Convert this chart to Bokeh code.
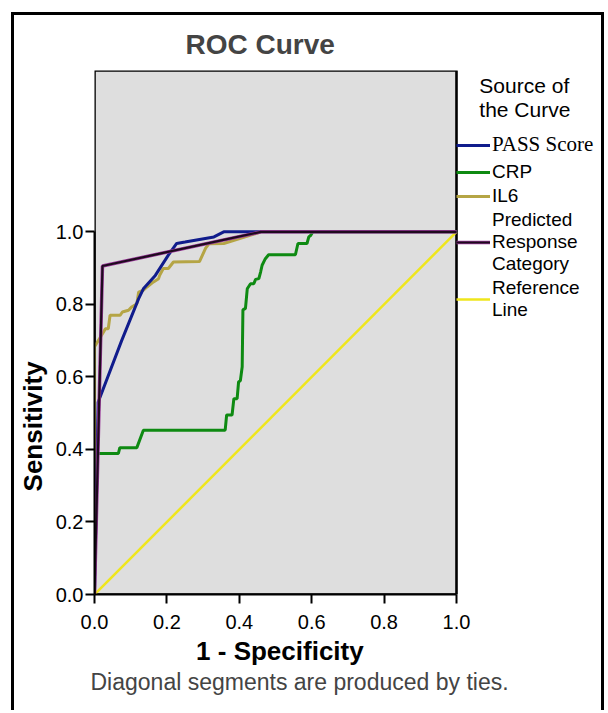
from bokeh.plotting import figure
from bokeh.models import Legend, LegendItem, Title, FixedTicker, Range1d
from bokeh.embed import file_html
from bokeh.resources import INLINE

# ---- data ----
pass_fpr = [0.0, 0.010, 0.075, 0.122, 0.135, 0.168, 0.204, 0.227, 0.250, 0.330, 0.357, 1.0]
pass_tpr = [0.0, 0.530, 0.700, 0.816, 0.843, 0.880, 0.936, 0.968, 0.972, 0.986, 1.000, 1.0]

crp_fpr = [0.0, 0.005, 0.066, 0.070, 0.117, 0.135, 0.361, 0.365, 0.380, 0.385, 0.394,
           0.398, 0.403, 0.408, 0.410, 0.417, 0.422, 0.431, 0.440, 0.445, 0.454, 0.459,
           0.463, 0.472, 0.481, 0.555, 0.562, 0.587, 0.592, 0.597, 0.603, 1.0]
crp_tpr = [0.0, 0.389, 0.389, 0.405, 0.405, 0.453, 0.453, 0.495, 0.495, 0.540, 0.540,
           0.586, 0.590, 0.628, 0.785, 0.789, 0.843, 0.857, 0.857, 0.869, 0.871, 0.890,
           0.908, 0.926, 0.937, 0.937, 0.968, 0.968, 0.986, 0.990, 1.000, 1.0]

il6_fpr = [0.0, 0.0, 0.025, 0.030, 0.038, 0.043, 0.071, 0.077, 0.094, 0.103, 0.117,
           0.122, 0.135, 0.145, 0.163, 0.177, 0.180, 0.190, 0.204, 0.218, 0.290, 0.307,
           0.316, 0.357, 0.460, 1.0]
il6_tpr = [0.0, 0.683, 0.724, 0.733, 0.733, 0.770, 0.770, 0.779, 0.784, 0.793, 0.802,
           0.834, 0.839, 0.848, 0.862, 0.871, 0.880, 0.899, 0.899, 0.917, 0.918, 0.955,
           0.967, 0.968, 1.000, 1.0]

pred_fpr = [0.0, 0.022, 0.460, 1.0]
pred_tpr = [0.0, 0.906, 1.000, 1.0]

ref_fpr = [0.0, 1.0]
ref_tpr = [0.0, 1.0]

tick_values = [0.0, 0.2, 0.4, 0.6, 0.8, 1.0]
tick_labels = ["0.0", "0.2", "0.4", "0.6", "0.8", "1.0"]

series_names = ["PASS Score", "CRP", "IL6", "Predicted\nResponse\nCategory", "Reference\nLine"]
legend_title_lines = ["Source of", "the Curve"]

# plot-area extents (data units): x 0..1, y 0..1.445; the frame continues to the
# right to hold the legend
X_MAX, Y_MAX = 1.0, 1.445
X_VIEW = 508 / 362

SANS = "Liberation Sans"
NB = "\u00a0"

p = figure(width=593, height=698, output_backend="svg", toolbar_location=None,
           x_range=Range1d(0, X_VIEW), y_range=Range1d(0, Y_MAX),
           min_border_left=80, min_border_right=5, min_border_top=55,
           min_border_bottom=119,
           background_fill_color="white", border_fill_color="white")
p.margin = (12, 0, 0, 11)
p.styles = {"border-left": "3px solid black", "border-top": "3px solid black",
            "border-right": "3px solid black"}

p.outline_line_color = None
p.grid.visible = False

# grey plot area with black border
p.quad(left=[0.0], right=[X_MAX], bottom=[0.0], top=[Y_MAX],
       fill_color="#dedede", line_color="black", line_width=2.6)

# title
p.title.text = "ROC Curve"
p.title.align = "left"
p.title.offset = 91
p.title.text_font = SANS
p.title.text_font_size = "28px"
p.title.text_font_style = "bold"
p.title.standoff = 22

for ax in (p.xaxis[0], p.yaxis[0]):
    ax.ticker = FixedTicker(ticks=tick_values)
    ax.major_label_overrides = dict(zip(tick_values, tick_labels))
    ax.bounds = (0, 1)
    ax.axis_line_color = "black"
    ax.axis_line_width = 2
    ax.major_tick_out = 9
    ax.major_tick_in = 0
    ax.major_tick_line_width = 2
    ax.major_tick_line_color = "black"
    ax.minor_tick_line_color = None
    ax.major_label_text_font = SANS
    ax.major_label_text_font_size = "20px"
    ax.major_label_text_color = "black"
    ax.axis_label_text_font = SANS
    ax.axis_label_text_font_size = "26px"
    ax.axis_label_text_font_style = "bold"
    ax.axis_label_text_color = "black"

# trailing no-break spaces move the (frame-centred) axis titles over the 0..1 span
p.xaxis.axis_label = "1 - Specificity" + NB * 19
p.yaxis.axis_label = "Sensitivity" + NB * 26
p.xaxis.major_label_standoff = 11
p.yaxis.major_label_standoff = 2
p.xaxis.axis_label_standoff = 4
p.yaxis.axis_label_standoff = 5

p.add_layout(Title(text="Diagonal segments are produced by ties.", align="left",
                   text_font=SANS, text_font_size="23px", text_font_style="normal",
                   offset=-4, standoff=-3), "below")

# curves
r_ref = p.line(ref_fpr, ref_tpr, line_color="#efe61c", line_width=2.5)
r_crp = p.line(crp_fpr, crp_tpr, line_color="#0e8a12", line_width=3)
r_il6 = p.line(il6_fpr, il6_tpr, line_color="#b5a545", line_width=3)
r_pass = p.line(pass_fpr, pass_tpr, line_color="#101c8c", line_width=3)
r_pred_o = p.line(pred_fpr, pred_tpr, line_color="#9a3a9a", line_width=3.5)
r_pred_i = p.line(pred_fpr, pred_tpr, line_color="#1e0a1e", line_width=2.2)

renderer_groups = [[r_pass], [r_crp], [r_il6], [r_pred_o, r_pred_i], [r_ref]]
items = [LegendItem(label=n, renderers=g) for n, g in zip(series_names, renderer_groups)]

common = dict(padding=0, margin=0, glyph_width=34, glyph_height=20, label_height=20,
              label_standoff=2, background_fill_alpha=0, border_line_alpha=0,
              label_text_color="black", label_text_line_height=1.0)

title_text = "\n".join(NB * 4 + t for t in legend_title_lines)
leg_a = Legend(items=items[:1], location=(362, 437), spacing=0,
               label_text_font="Liberation Serif", label_text_font_size="21px",
               title=title_text, title_text_font=SANS, title_text_font_size="21px",
               title_text_font_style="normal", title_text_color="black",
               title_text_line_height=1.05, title_standoff=10, **common)
leg_b = Legend(items=items[1:], location=(362, 273), spacing=2,
               label_text_font=SANS, label_text_font_size="19px", **common)
p.add_layout(leg_a)
p.add_layout(leg_b)

open("out.html", "w").write(file_html(p, INLINE))
